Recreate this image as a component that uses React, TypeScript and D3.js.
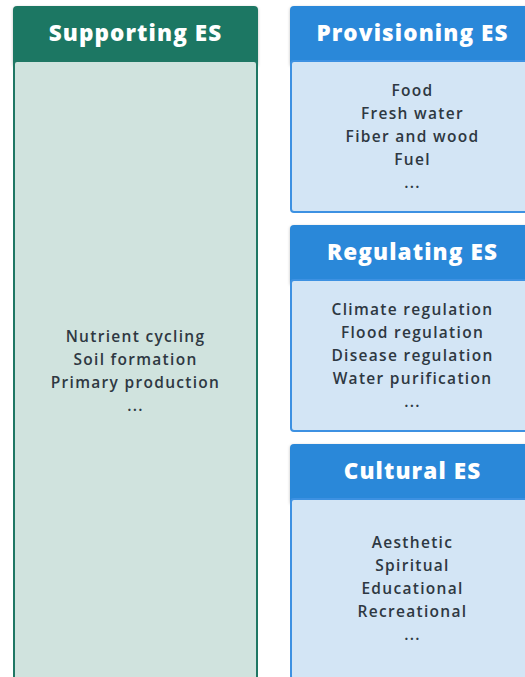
import React from 'react';
import * as d3 from 'd3';

const W = 525;
const H = 677;

const supportingTitle = 'Supporting ES';
const supportingItems = ['Nutrient cycling', 'Soil formation', 'Primary production', '...'];

const serviceTitles = ['Provisioning ES', 'Regulating ES', 'Cultural ES'];
const serviceItems = [
  ['Food', 'Fresh water', 'Fiber and wood', 'Fuel', '...'],
  ['Climate regulation', 'Flood regulation', 'Disease regulation', 'Water purification', '...'],
  ['Aesthetic', 'Spiritual', 'Educational', 'Recreational', '...'],
];

const GREEN = '#1f7764';
const GREEN_BODY = '#d0e3de';
const BLUE = '#2b88d9';
const BLUE_BODY = '#d3e5f5';
const BLUE_EDGE = '#3d91e2';
const TEXT = '#2e3842';

const headerH = 54;
const lineH = 23;
const fontFam = '"Open Sans", "Noto Sans", sans-serif';

// one service card: header + body, items centred in body
const Card = ({ x, y, w, bodyH, title, items, head, body, edge }) => {
  const cy = y + headerH + bodyH / 2;
  const line = d3.scaleLinear().domain([0, items.length - 1])
    .range([cy - (lineH * (items.length - 1)) / 2, cy + (lineH * (items.length - 1)) / 2]);
  return (
    <g>
      <rect x={x} y={y} width={w} height={headerH + 6} rx={4} fill={head} filter="url(#sh)" />
      <text x={x + w / 2} y={y + 35} textAnchor="middle" fill="#fff"
        fontFamily={fontFam} fontWeight={800} fontSize={22.5} letterSpacing={1.1}>{title}</text>
      <rect x={x + 1} y={y + headerH + 1} width={w - 2} height={bodyH} rx={3}
        fill={body} stroke={edge} strokeWidth={2} />
      {items.map((t, i) => (
        <text key={t + i} x={x + w / 2} y={line(i) + 6} textAnchor="middle" fill={TEXT}
          fontFamily={fontFam} fontWeight={600} fontSize={15.5} letterSpacing={1.3}>{t}</text>
      ))}
    </g>
  );
};

export default function App() {
  const rightX = 290;
  const rightW = 245;
  const gap = 14;
  const bodyHs = [151, 151, 180];
  const tops = bodyHs.reduce((acc, h, i) => {
    acc.push(i === 0 ? 6 : acc[i - 1] + headerH + bodyHs[i - 1] + gap);
    return acc;
  }, [] as number[]);

  return (
    <svg width={W} height={H} style={{ position: 'fixed', left: 0, top: 0, background: '#fff' }}>
      <defs>
        <filter id="sh" x="-10%" y="-10%" width="120%" height="130%">
          <feDropShadow dx={0} dy={1} stdDeviation={1.5} floodColor="#000" floodOpacity={0.25} />
        </filter>
      </defs>
      <Card x={13} y={6} w={245} bodyH={620} title={supportingTitle} items={supportingItems}
        head={GREEN} body={GREEN_BODY} edge={GREEN} />
      {serviceTitles.map((t, i) => (
        <Card key={t} x={rightX} y={tops[i]} w={rightW} bodyH={bodyHs[i]} title={t}
          items={serviceItems[i]} head={BLUE} body={BLUE_BODY} edge={BLUE_EDGE} />
      ))}
    </svg>
  );
}
